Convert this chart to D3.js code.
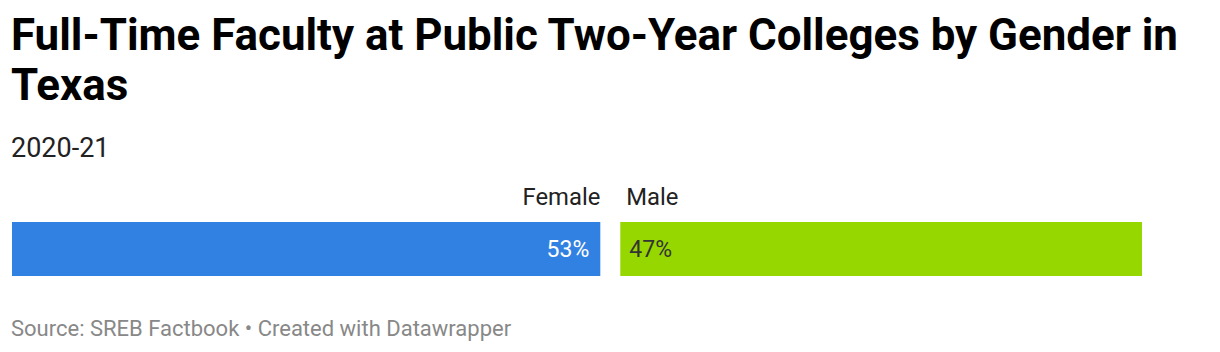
<!DOCTYPE html>
<html>
<head>
<meta charset="utf-8">
<script src="https://cdn.jsdelivr.net/npm/d3@7"></script>
<style>
  body { margin: 0; background: #fff; font-family: Roboto, sans-serif; }
</style>
</head>
<body>
<div id="chart"></div>
<script>
var titleLines = ["Full-Time Faculty at Public Two-Year Colleges by Gender in", "Texas"]
var subtitle = "2020-21"
var categories = ["Female", "Male"]
var shares = [53, 47]
var colors = ["#3181e3", "#97d700"]
var labelColors = ["#ffffff", "#333333"]
var note = "Source: SREB Factbook \u2022 Created with Datawrapper"

var width = 1220, height = 352
var left = 12, right = 1142, gap = 20
var barTop = 222, barH = 54

var svg = d3.select("#chart").append("svg")
    .attr("width", width)
    .attr("height", height)

svg.selectAll(".title")
    .data(titleLines)
    .enter()
    .append("text")
      .attr("class", "title")
      .attr("x", left - 1)
      .attr("y", function(d, i) { return 50 + i * 50 })
      .attr("font-size", 43.9)
      .attr("font-weight", 700)
      .attr("fill", "#000")
      .text(d => d)

svg.append("text")
    .attr("x", left - 1)
    .attr("y", 157)
    .attr("font-size", 27)
    .attr("fill", "#222")
    .text(subtitle)

// stacked bar: scale over the total share, minus the gap
var x = d3.scaleLinear()
    .domain([0, d3.sum(shares)])
    .range([0, right - left - gap])

var starts = [0]
shares.forEach(function(d, i) { if (i > 0) starts.push(starts[i - 1] + shares[i - 1]) })

var segs = shares.map(function(d, i) {
  return { cat: categories[i], v: d, x0: left + x(starts[i]) + i * gap, w: x(d), i: i }
})

svg.selectAll(".bar")
    .data(segs)
    .enter()
    .append("rect")
      .attr("class", "bar")
      .attr("x", d => d.x0)
      .attr("y", barTop)
      .attr("width", d => d.w)
      .attr("height", barH)
      .attr("fill", d => colors[d.i])

svg.selectAll(".cat")
    .data(segs)
    .enter()
    .append("text")
      .attr("class", "cat")
      .attr("x", d => d.i == 0 ? d.x0 + d.w : d.x0 + 6)
      .attr("y", 205)
      .attr("text-anchor", d => d.i == 0 ? "end" : "start")
      .attr("font-size", 23.8)
      .attr("fill", "#222")
      .text(d => d.cat)

svg.selectAll(".val")
    .data(segs)
    .enter()
    .append("text")
      .attr("class", "val")
      .attr("x", d => d.i == 0 ? d.x0 + d.w - 11 : d.x0 + 9)
      .attr("y", 257)
      .attr("text-anchor", d => d.i == 0 ? "end" : "start")
      .attr("font-size", 23)
      .attr("fill", d => labelColors[d.i])
      .text(d => d.v + "%")

svg.append("text")
    .attr("x", left - 1)
    .attr("y", 336)
    .attr("font-size", 22)
    .attr("fill", "#888")
    .text(note)
</script>
</body>
</html>
